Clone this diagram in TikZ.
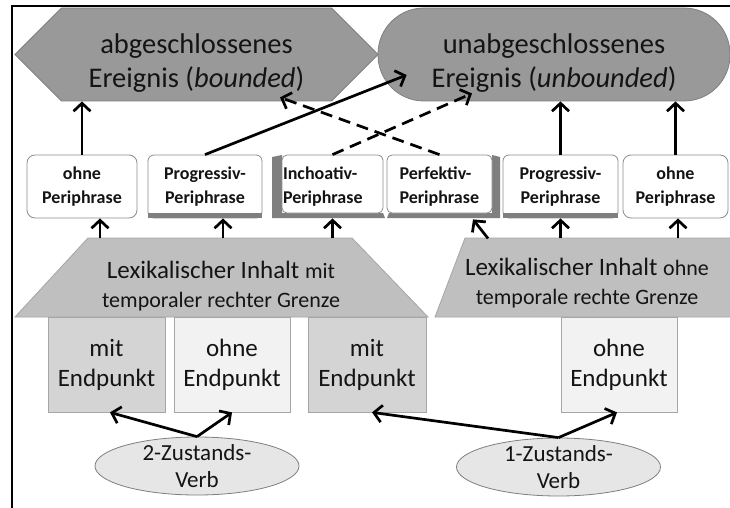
\documentclass[tikz,border=0pt]{standalone}
\usepackage{fontspec}
\setmainfont{Carlito}
\usetikzlibrary{shapes.symbols,shapes.geometric,arrows.meta,calc}
\definecolor{shapegray}{HTML}{999999}
\definecolor{shapeline}{HTML}{7F7F7F}
\definecolor{trapgray}{HTML}{BFBFBF}
\definecolor{traplinegray}{HTML}{A6A6A6}
\definecolor{midgray}{HTML}{D4D4D4}
\definecolor{palegray}{HTML}{F2F2F2}
\definecolor{ellgray}{HTML}{E6E6E6}
\definecolor{stripgray}{HTML}{7F7F7F}
\definecolor{boxline}{HTML}{8C8C8C}
\definecolor{txt}{HTML}{141414}
\begin{document}
\begin{tikzpicture}[x=1pt,y=-1pt,
  evshape/.style={fill=shapegray, draw=shapeline, line width=0.8pt, text=txt, align=center,
    font=\fontsize{28.5}{34}\selectfont, inner sep=0pt, minimum height=93pt},
  peri/.style={fill=white, draw=boxline, line width=0.8pt, text=txt,
    font=\bfseries\fontsize{18}{23.5}\selectfont, align=center, inner sep=0pt, minimum height=63pt},
  bookpage/.style={fill=white, draw=boxline, line width=0.8pt, text=txt,
    font=\bfseries\fontsize{18}{24}\selectfont, align=left, inner xsep=1pt, inner ysep=0pt,
    minimum height=58pt, rounded corners=5pt},
  endbox/.style={draw=traplinegray, line width=0.8pt, text=txt, font=\fontsize{25}{30}\selectfont,
    align=center, minimum height=95pt, inner sep=0pt},
  verb/.style={ellipse, fill=ellgray, draw=shapeline, line width=0.8pt, text=txt,
    font=\fontsize{23}{27}\selectfont, align=center, inner xsep=0pt, inner ysep=-8pt,
    minimum width=204pt, minimum height=58pt},
  lex/.style={text=txt, align=center, inner sep=0pt},
  arr/.style={line width=2.7pt, -{Straight Barb[length=8pt,width=17pt]}},
  darr/.style={arr, dash pattern=on 12pt off 7pt}
]
\useasboundingbox (0,0) rectangle (730,508);
\clip (0,0) rectangle (730,508);
\fill[white] (0,0) rectangle (730,508);
\draw[line width=2pt] (12,508) -- (12,6) -- (730,6);

% top events
\node[evshape, signal, signal to=west and east, signal pointer angle=90, minimum width=363pt]
  (bounded) at (196.5,54.5) {\rule{0pt}{37pt}abgeschlossenes\\Ereignis (\textit{bounded})};
\node[evshape, rectangle, rounded corners=46pt, minimum width=352pt]
  (unbounded) at (554,54.5) {\rule{0pt}{37pt}unabgeschlossenes\\Ereignis (\textit{unbounded})};

% book strips
\fill[stripgray] (272,157) -- (282,155) -- (282,213) -- (383,213) -- (385,218) -- (272,218) -- cycle;
\fill[stripgray] (387,218) -- (389,213) -- (492,213) -- (492,155) -- (500,157) -- (500,218) -- cycle;

% periphrase boxes
\node[peri, rounded corners=8pt, minimum width=110pt] (ohneL) at (82,186.5) {ohne\\Periphrase};
\node[peri, rounded corners=6pt, minimum width=114pt] (progL) at (205,186.5) {Progressiv-\\Periphrase};
\fill[stripgray] (progL.south west) rectangle ([yshift=5pt]progL.south east);
\node[bookpage, minimum width=101pt, text width=99pt] (inch) at (332.5,184) {\rule{0pt}{17pt}Inchoativ-\\Periphrase};
\node[bookpage, minimum width=105pt, text width=80pt] (perf) at (439.5,184) {\rule{0pt}{17pt}Perfektiv-\\Periphrase};
\node[peri, rounded corners=6pt, minimum width=115pt] (progR) at (560.5,186.5) {Progressiv-\\Periphrase};
\fill[stripgray] (progR.south west) rectangle ([yshift=5pt]progR.south east);
\node[peri, rounded corners=8pt, minimum width=105pt] (ohneR) at (675.5,186.5) {ohne\\Periphrase};

% trapezoids
\filldraw[fill=trapgray, draw=traplinegray, line width=0.8pt] (15,317) -- (88,238) -- (352,238) -- (428,317) -- cycle;
\filldraw[fill=trapgray, draw=traplinegray, line width=0.8pt] (435,317) -- (465,238) -- (745,238) -- (760,317) -- cycle;
\node[lex, font=\fontsize{25}{29}\selectfont] (lexL) at (221,286)
  {Lexikalischer Inhalt {\fontsize{22}{29}\selectfont mit}\\{\fontsize{22}{29}\selectfont temporaler rechter Grenze}};
\node[lex, font=\fontsize{25}{29}\selectfont] (lexR) at (587,283)
  {Lexikalischer Inhalt {\fontsize{22}{29}\selectfont ohne}\\{\fontsize{22}{29}\selectfont temporale rechte Grenze}};
\coordinate (lexRtop) at (587,238);

% end point boxes
\node[endbox, fill=midgray, minimum width=117pt] (endA) at (106.5,364.5) {mit\\Endpunkt};
\node[endbox, fill=palegray, minimum width=116pt] (endB) at (232,364.5) {ohne\\Endpunkt};
\node[endbox, fill=midgray, minimum width=118pt] (endC) at (367,364.5) {mit\\Endpunkt};
\node[endbox, fill=palegray, minimum width=116pt] (endD) at (619,364.5) {ohne\\Endpunkt};

% verbs
\node[verb] (zwei) at (197,466) {2-Zustands-\\Verb};
\node[verb] (eins) at (558.5,467) {1-Zustands-\\Verb};

% arrows to events
\draw[arr] (ohneL.north) -- (ohneL.north |- bounded.south);
\draw[arr] (progL.north) -- ($(unbounded.west)+(29,20.5)$);
\draw[darr] (inch.north) -- ($(unbounded.south)+(-82,-8)$);
\draw[darr] (perf.north) -- ($(bounded.south)+(83.5,-4)$);
\draw[arr] (progR.north) -- (progR.north |- unbounded.south);
\draw[arr] (ohneR.north) -- (ohneR.north |- unbounded.south);

% arrows from lexical content
\draw[arr] ($(ohneL.south)+(18,20)$) -- ($(ohneL.south)+(18,0)$);
\draw[arr] ($(progL.south)+(18,20)$) -- ($(progL.south)+(18,0)$);
\draw[arr] ($(inch.south)+(0,25)$) -- ($(inch.south)+(0,5)$);
\draw[arr] ($(perf.south)+(48.5,25)$) -- ($(perf.south)+(33.5,6)$);
\draw[arr] (progR.south |- lexRtop) -- (progR.south);
\draw[arr] ($(ohneR.south)+(2.5,20)$) -- ($(ohneR.south)+(2.5,0)$);

% arrows from verbs
\draw[arr] (zwei.north) -- ($(endA.south)+(3.5,0)$);
\draw[arr] (zwei.north) -- (endB.south);
\draw[arr] (eins.north) -- ($(endC.south)+(5,0)$);
\draw[arr] (eins.north) -- ($(endD.south)+(-2,0)$);
\end{tikzpicture}
\end{document}
